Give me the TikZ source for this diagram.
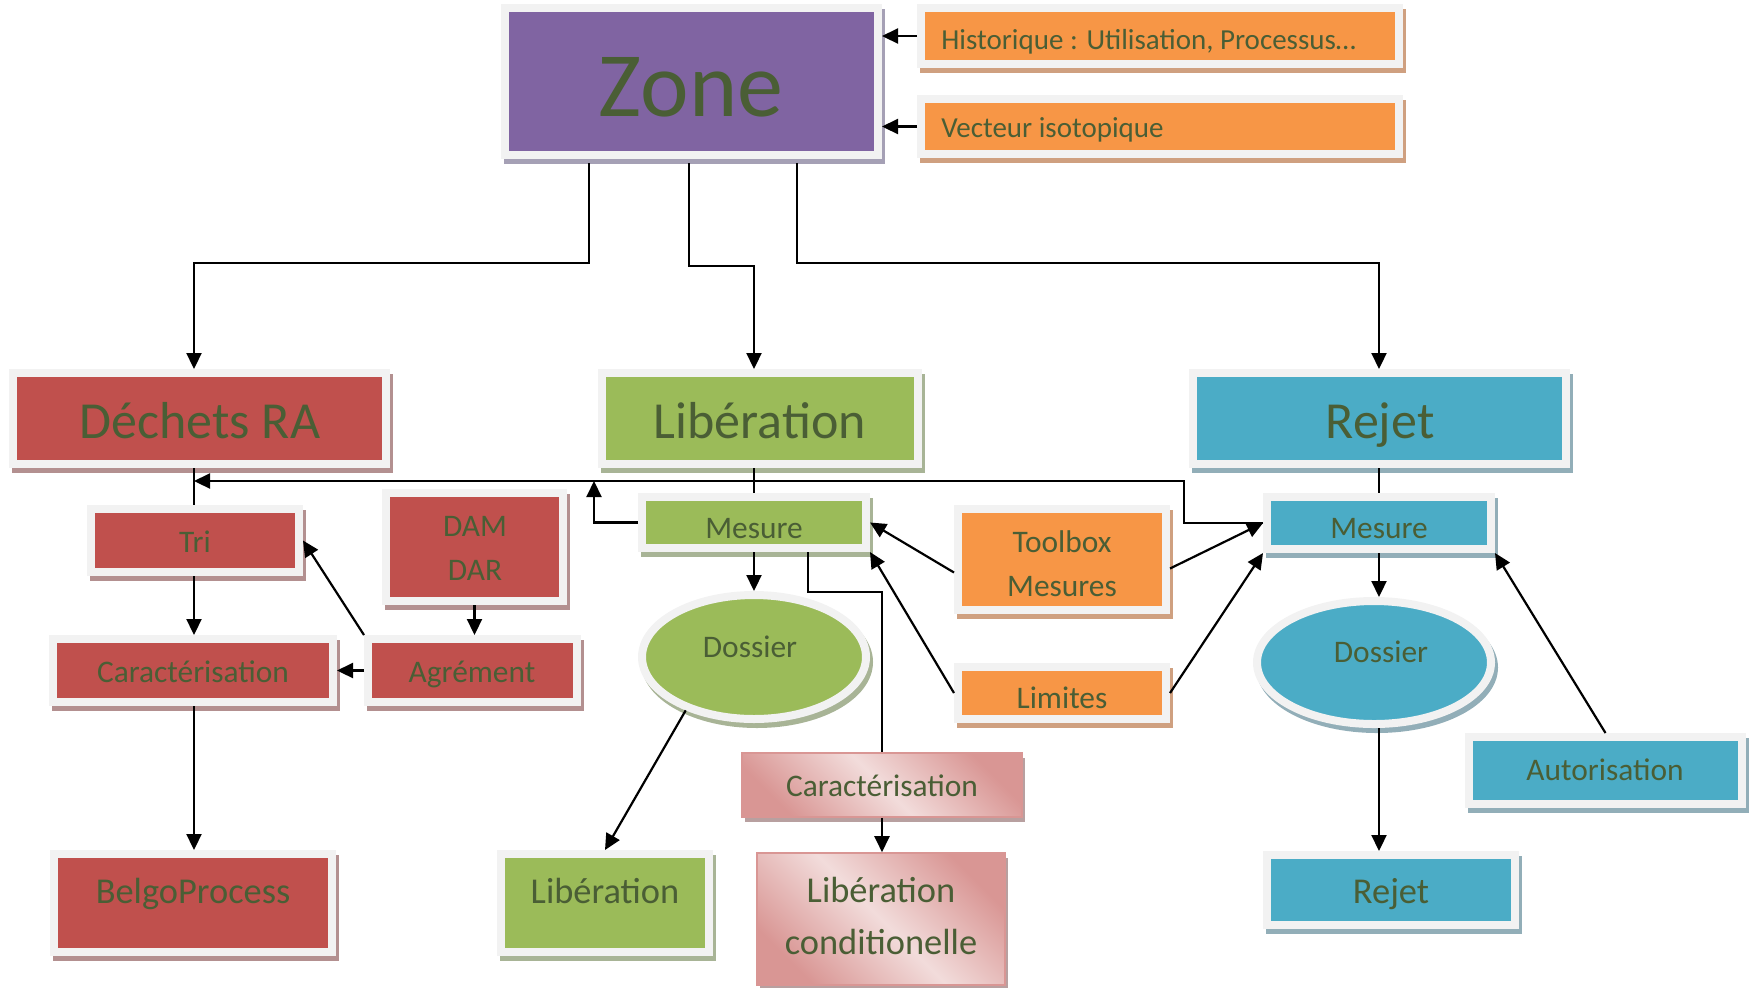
\documentclass[tikz,border=0pt]{standalone}
\usepackage{fontspec}
\setmainfont{Carlito}
\usetikzlibrary{arrows.meta,shapes.geometric,calc}
\definecolor{txtC}{HTML}{4A5E35}
\definecolor{frameC}{HTML}{F2F2F2}
\definecolor{purp}{HTML}{8064A2}
\definecolor{purpS}{HTML}{A5A0B5}
\definecolor{orng}{HTML}{F79646}
\definecolor{orngS}{HTML}{CFA080}
\definecolor{redd}{HTML}{C0504D}
\definecolor{reddS}{HTML}{B39090}
\definecolor{grn}{HTML}{9BBB59}
\definecolor{grnS}{HTML}{A8B496}
\definecolor{blu}{HTML}{4BACC6}
\definecolor{bluS}{HTML}{92AEB8}
\definecolor{pinkD}{HTML}{D99694}
\definecolor{pinkL}{HTML}{F2DCDB}
\definecolor{pinkS}{HTML}{B8A0A0}
\tikzset{
  fb/.style={draw=frameC, line width=4pt, inner sep=0pt},
  pk/.style={draw=pinkD, line width=0.8pt, inner sep=0pt, top color=pinkD, bottom color=pinkD, middle color=pinkL, shading angle=-45},
  arr/.style={-{Triangle[length=8pt,width=7.5pt]}, line width=1.1pt, black},
  ln/.style={line width=1.1pt, black},
  txt/.style={text=txtC, anchor=base, inner sep=0pt},
  big/.style={font=\fontsize{26}{31}\selectfont},
  med/.style={font=\fontsize{15.7}{19}\selectfont},
  lrg/.style={font=\fontsize{18.2}{22}\selectfont},
  sml/.style={font=\fontsize{14.5}{17}\selectfont},
}
\newcommand{\mkbox}[8]{%
  \node[#1, fill=#7, preaction={draw=#8, fill=#8, transform canvas={xshift=1.5pt,yshift=-2.5pt}},
    minimum width={0.5pt*(#5-#3+8)}, minimum height={0.5pt*(#6-#4+8)}]
    (#2) at ({(#3+#5)/2},{(#4+#6)/2}) {};}
\begin{document}
\begin{tikzpicture}[x=0.5pt,y=-0.5pt]
\useasboundingbox (0,0) rectangle (1752,987);
% boxes
\mkbox{fb}{zone}{509}{12}{874}{151}{purp}{purpS}
\mkbox{fb}{hist}{925}{12}{1395}{60}{orng}{orngS}
\mkbox{fb}{vect}{925}{103}{1395}{150}{orng}{orngS}
\mkbox{fb}{dech}{17}{377}{382}{460}{redd}{reddS}
\mkbox{fb}{libb}{606}{377}{914}{460}{grn}{grnS}
\mkbox{fb}{rejb}{1197}{377}{1562}{460}{blu}{bluS}
\mkbox{fb}{tri}{95}{513}{295}{568}{redd}{reddS}
\mkbox{fb}{dam}{390}{497}{559}{597}{redd}{reddS}
\mkbox{fb}{car1}{57}{643}{329}{698}{redd}{reddS}
\mkbox{fb}{agr}{372}{643}{573}{698}{redd}{reddS}
\mkbox{fb}{belgo}{58}{858}{328}{948}{redd}{reddS}
\mkbox{fb}{libs}{505}{858}{705}{948}{grn}{grnS}
\mkbox{fb}{lmes}{646}{501}{862}{544}{grn}{grnS}
\mkbox{fb,ellipse}{dg}{646}{599}{862}{715}{grn}{grnS}
\mkbox{fb}{tb}{962}{513}{1162}{606}{orng}{orngS}
\mkbox{fb}{lim}{962}{671}{1162}{715}{orng}{orngS}
\mkbox{fb}{rmes}{1271}{501}{1487}{545}{blu}{bluS}
\mkbox{fb,ellipse}{db}{1261}{605}{1487}{720}{blu}{bluS}
\mkbox{fb}{aut}{1473}{741}{1738}{800}{blu}{bluS}
\mkbox{fb}{rejs}{1271}{859}{1511}{921}{blu}{bluS}
\node[pk, preaction={fill=pinkS, transform canvas={xshift=1.5pt,yshift=-2.5pt}},
  minimum width={0.5pt*280}, minimum height={0.5pt*64}] (carp) at (882,785) {};
\node[pk, preaction={fill=pinkS, transform canvas={xshift=1.5pt,yshift=-2.5pt}},
  minimum width={0.5pt*248}, minimum height={0.5pt*132}] (libc) at (881,919) {};
% texts
\node[txt, font=\fontsize{46}{55}\selectfont] (tzone) at (691,116) {Zone};
\node[txt, sml, anchor=base west] (thist) at (941,49) {Historique : Utilisation, Processus…};
\node[txt, sml, anchor=base west] (tvect) at (941,137) {Vecteur isotopique};
\node[txt, big] (tdech) at (200,438) {Déchets RA};
\node[txt, big] (tlibb) at (760,438) {Libération};
\node[txt, big] (trejb) at (1380,438) {Rejet};
\node[txt, med] (ttri) at (195,552) {Tri};
\node[txt, med] (tdam) at (475,536) {DAM};
\node[txt, med] (tdar) at (475,580) {DAR};
\node[txt, med] (tcar1) at (193,682) {Caractérisation};
\node[txt, med] (tagr) at (472,682) {Agrément};
\node[txt, lrg] (tbelgo) at (193,903) {BelgoProcess};
\node[txt, lrg] (tlibs) at (605,903) {Libération};
\node[txt, med] (tcarp) at (882,796) {Caractérisation};
\node[txt, lrg] (tlibc1) at (881,902) {Libération};
\node[txt, lrg] (tlibc2) at (881,954) {conditionelle};
\node[txt, med] (tlmes) at (754,538) {Mesure};
\node[txt, med] (tdg) at (750,657) {Dossier};
\node[txt, med] (ttb1) at (1062,552) {Toolbox};
\node[txt, med] (ttb2) at (1062,596) {Mesures};
\node[txt, med] (tlim) at (1062,708) {Limites};
\node[txt, med] (trmes) at (1379,538) {Mesure};
\node[txt, med] (tdb) at (1381,662) {Dossier};
\node[txt, med] (taut) at (1605,780) {Autorisation};
\node[txt, lrg] (trejs) at (1391,903) {Rejet};
% helper coordinates
\coordinate (xA) at (589,0);
\coordinate (yA) at (0,263);
\coordinate (xB) at (689,0);
\coordinate (yB) at (0,266);
\coordinate (xC) at (797,0);
\coordinate (yC) at (0,263);
\coordinate (xD) at (194,0);
\coordinate (xE) at (1184,0);
\coordinate (yH) at (0,481);
\coordinate (xG) at (594,0);
\coordinate (xF) at (808,0);
\coordinate (yF) at (0,592);
% connectors
\draw[arr] (hist.west) -- (hist.west -| zone.east);
\draw[arr] (vect.west) -- (vect.west -| zone.east);
\draw[arr] ([yshift=-2pt]zone.south -| xA) -- (xA |- yA) -| (dech.north -| xD);
\draw[arr] ([yshift=-2pt]zone.south -| xB) -- (xB |- yB) -| (libb.north -| lmes.north);
\draw[arr] ([yshift=-2pt]zone.south -| xC) -- (xC |- yC) -| (rejb.north -| rmes.north);
\draw[ln] (dech.south -| xD) -- (tri.north -| xD);
\draw[arr] (rmes.west) -| (xE |- yH) -- (xD |- yH);
\draw[arr] (lmes.west) -| (xG |- yH);
\draw[ln] (libb.south -| lmes.north) -- (lmes.north);
\draw[ln] (rejb.south -| rmes.north) -- (rmes.north);
\draw[arr] (tri.south -| xD) -- (car1.north -| xD);
\draw[arr] (agr.north west) -- (tri.east);
\draw[arr] (agr.west) -- (car1.east);
\draw[arr] (dam.south) -- (dam.south |- agr.north);
\draw[arr] (car1.south -| xD) -- (belgo.north -| xD);
\draw[arr] (lmes.south) -- (dg.north);
\draw[arr] (dg.218) -- (libs.north);
\draw[ln] (lmes.south -| xF) |- (carp.north |- yF) -- (carp.north);
\draw[arr] (carp.south) -- (carp.south |- libc.north);
\draw[arr] ($(tb.west)+(0,13)$) -- (lmes.east);
\draw[arr] (lim.west) -- (lmes.south east);
\draw[arr] ($(tb.east)+(0,9)$) -- (rmes.west);
\draw[arr] (lim.east) -- (rmes.south west);
\draw[arr] (rmes.south) -- (rmes.south |- db.north);
\draw[arr] (rmes.south |- db.south) -- (rmes.south |- rejs.north);
\draw[arr] (aut.north) -- (rmes.south east);
\end{tikzpicture}
\end{document}
